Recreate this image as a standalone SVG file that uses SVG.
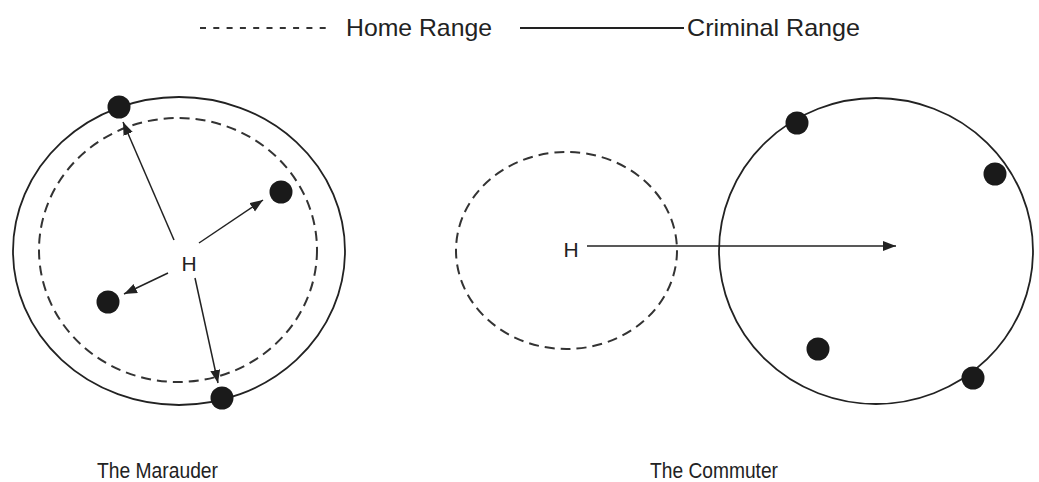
<svg xmlns="http://www.w3.org/2000/svg" width="1039" height="482" viewBox="0 0 1039 482">
<style>
  text { font-family: "Liberation Sans", Arial, sans-serif; fill: #222; }
  .lbl { font-size: 24px; }
  .cap { font-size: 22px; }
  .h { font-size: 21px; text-anchor: middle; }
  .range { fill: none; stroke: #222; stroke-width: 1.8; }
  .home { fill: none; stroke: #333; stroke-width: 2; stroke-dasharray: 10 6; }
  .dot { fill: #1a1a1a; }
  .arr { stroke: #222; stroke-width: 1.5; fill: none; marker-end: url(#ah); }
</style>
<defs>
  <marker id="ah" markerUnits="userSpaceOnUse" markerWidth="14" markerHeight="12" refX="13" refY="5" orient="auto">
    <path d="M0,0 L13,5 L0,10 Z" fill="#222"/>
  </marker>
</defs>
<rect width="1039" height="482" fill="#fff"/>
<g id="legend">
  <line x1="200" y1="28" x2="330" y2="28" stroke="#333" stroke-width="1.8" stroke-dasharray="6 7.3"/>
  <text class="lbl" x="346" y="36" textLength="146" lengthAdjust="spacingAndGlyphs">Home Range</text>
  <line x1="520" y1="28" x2="684" y2="28" stroke="#222" stroke-width="1.8"/>
  <text class="lbl" x="687" y="36" textLength="173" lengthAdjust="spacingAndGlyphs">Criminal Range</text>
</g>
<g id="marauder">
  <ellipse id="marauder-criminal" class="range" cx="179" cy="251" rx="166" ry="154"/>
  <ellipse id="marauder-home" class="home" cx="178" cy="250" rx="139" ry="132"/>
  <text id="marauder-H" class="h" x="189" y="271">H</text>
  <circle class="dot" cx="119" cy="107" r="11.5"/>
  <circle class="dot" cx="281" cy="192" r="11.5"/>
  <circle class="dot" cx="108" cy="302" r="11.5"/>
  <circle class="dot" cx="222" cy="398" r="11.5"/>
  <text class="cap" x="97" y="478" textLength="121" lengthAdjust="spacingAndGlyphs">The Marauder</text>
</g>
<g id="commuter">
  <ellipse id="commuter-home" class="home" cx="566.5" cy="250.5" rx="110.5" ry="98.5"/>
  <text id="commuter-H" class="h" x="571" y="257">H</text>
  <ellipse id="commuter-criminal" class="range" cx="876" cy="251" rx="157" ry="153"/>
  <circle class="dot" cx="797" cy="123" r="11.5"/>
  <circle class="dot" cx="995" cy="174" r="11.5"/>
  <circle class="dot" cx="818" cy="349" r="11.5"/>
  <circle class="dot" cx="973" cy="378" r="11.5"/>
  <text class="cap" x="650" y="478" textLength="128" lengthAdjust="spacingAndGlyphs">The Commuter</text>
</g>
<g id="connectors">
  <line class="arr" x1="174" y1="240" x2="123" y2="122"/>
  <line class="arr" x1="199" y1="243" x2="263" y2="200"/>
  <line class="arr" x1="168" y1="273" x2="124" y2="294"/>
  <line class="arr" x1="195" y1="278" x2="218" y2="383"/>
  <line class="arr" x1="587" y1="246" x2="896" y2="246"/>
</g>
</svg>
